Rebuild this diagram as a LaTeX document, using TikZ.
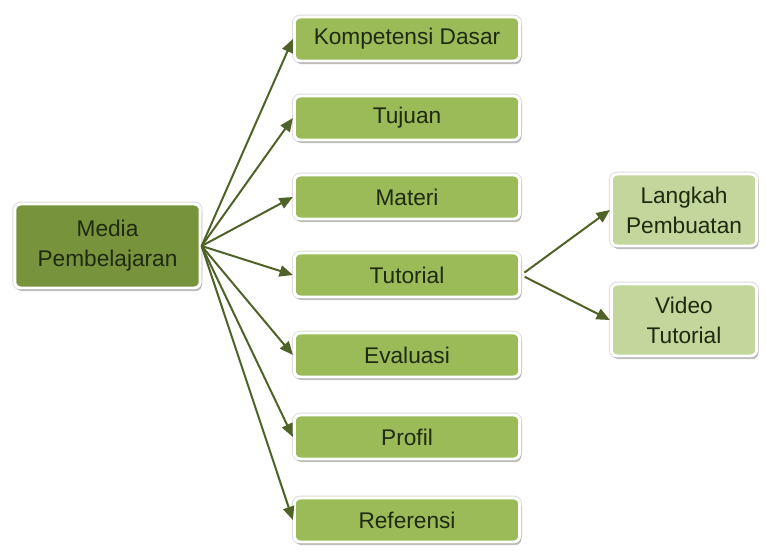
\documentclass[tikz,border=0pt]{standalone}
\usepackage{fontspec}
\setmainfont{Liberation Sans}
\usetikzlibrary{arrows.meta,shadows}

\definecolor{olivemid}{HTML}{9BBB59}
\definecolor{olivedark}{HTML}{77933C}
\definecolor{olivelight}{HTML}{C3D69B}
\definecolor{arrowcol}{HTML}{4F6228}
\definecolor{textcol}{HTML}{1E2A0E}

\tikzset{
    box/.style={rounded corners=4.5pt, draw=white, line width=2.2pt,
        preaction={draw=black!14, line width=3.6pt},
        text=textcol, align=center, inner sep=0pt,
        font=\fontsize{17}{22.5}\selectfont,
        drop shadow={shadow xshift=1.2pt, shadow yshift=-2.4pt,
            fill=black, opacity=0.22}},
    rootbox/.style={box, fill=olivedark, minimum width=139pt, minimum height=63pt},
    itembox/.style={box, fill=olivemid, minimum width=169pt, minimum height=33pt},
    subbox/.style={box, fill=olivelight, minimum width=109pt, minimum height=54pt},
    link/.style={draw=arrowcol, line width=1.5pt,
        -{Triangle[length=10pt,width=8.5pt]}}
}

\begin{document}
\begin{tikzpicture}[x=0.75pt,y=0.75pt]
        \useasboundingbox (0,0) rectangle (766,551);
        %% Root
        \node[rootbox] (media) at (107.5,305) {Media\\Pembelajaran};
        %% Menu items
        \node[itembox] (komp) at (407,512) {Kompetensi Dasar};
        \node[itembox] (tuj)  at (407,433) {Tujuan};
        \node[itembox] (mat)  at (407,354) {Materi};
        \node[itembox] (tut)  at (407,276) {Tutorial};
        \node[itembox] (eva)  at (407,196) {Evaluasi};
        \node[itembox] (pro)  at (407,114) {Profil};
        \node[itembox] (ref)  at (407,31)  {Referensi};
        %% Tutorial sub items
        \node[subbox] (lang) at (684,341) {Langkah\\Pembuatan};
        \node[subbox] (vid)  at (684,231) {Video\\Tutorial};
        %% Arrows
        \foreach \item in {komp,tuj,mat,tut,eva,pro,ref}
            \draw[link] (media.east) -- (\item.west);
        \draw[link,shorten <=3pt] (tut.east) -- (lang.west);
        \draw[link,shorten <=3pt] (tut.east) -- (vid.west);
    \end{tikzpicture}
\end{document}
